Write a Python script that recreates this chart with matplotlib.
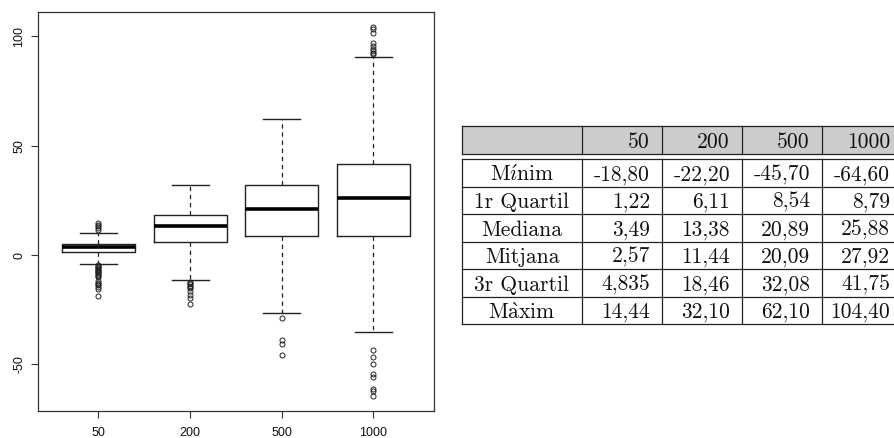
import matplotlib
matplotlib.use("Agg")
import matplotlib.pyplot as plt
from matplotlib.patches import Rectangle

plt.rcParams['axes.unicode_minus'] = False
plt.rcParams['mathtext.fontset'] = 'cm'

# mides de mostra
mides = ['50', '200', '500', '1000']

# resum per mida
minim = [-18.80, -22.20, -45.70, -64.60]
q1 = [1.22, 6.11, 8.54, 8.79]
mediana = [3.49, 13.38, 20.89, 25.88]
mitjana = [2.57, 11.44, 20.09, 27.92]
q3 = [4.835, 18.46, 32.08, 41.75]
maxim = [14.44, 32.10, 62.10, 104.40]

# extrems dels bigotis (llegits del grafic)
bigoti_baix = [-4.1, -11.5, -26.5, -35.3]
bigoti_alt = [10.2, 32.10, 62.10, 90.8]

# valors atipics (llegits del grafic)
atipics = [
    [-4.6, -5.0, -5.4, -5.8, -6.3, -6.7, -7.1, -7.6, -8.0, -8.5, -9.0, -9.6,
     -10.2, -12.0, -12.6, -13.1, -13.8, -14.6, -15.5, -18.8,
     11.3, 12.4, 13.1, 13.9, 14.44],
    [-12.4, -12.8, -13.4, -14.0, -14.6, -15.3, -16.6, -18.1, -19.6, -22.2],
    [-28.6, -38.9, -40.6, -45.7],
    [-43.3, -46.6, -50.0, -54.3, -55.8, -61.2, -62.0, -64.6,
     92.0, 92.6, 93.4, 94.2, 95.5, 97.0, 101.7, 103.6, 104.4],
]

# etiquetes de fila (Mínim i Màxim amb accents de mathtext)
files = [r'$\mathrm{M\acute{\imath}nim}$', '1r Quartil', 'Mediana', 'Mitjana',
         '3r Quartil', r'$\mathrm{M\grave{a}xim}$']
taula = [minim, q1, mediana, mitjana, q3, maxim]


def fmt(v):
    s = f"{v:.2f}" if round(v, 2) == v else f"{v:.3f}"
    return s.replace('.', ',')


W, H = 894, 438
fig = plt.figure(figsize=(W / 100, H / 100), dpi=100)

# ---- boxplot (estil R) ----
ax = fig.add_axes([38 / W, (H - 411) / H, (434 - 38) / W, (411 - 12) / H])
stats = []
for i in range(4):
    stats.append(dict(med=mediana[i], q1=q1[i], q3=q3[i],
                      whislo=bigoti_baix[i], whishi=bigoti_alt[i],
                      fliers=atipics[i], label=mides[i]))
col = '#222222'
ax.bxp(stats, positions=[1, 2, 3, 4], widths=0.8, capwidths=0.4,
       boxprops=dict(color=col, lw=1.0),
       medianprops=dict(color='black', lw=2.6, solid_capstyle='butt'),
       whiskerprops=dict(color=col, lw=0.9, linestyle=(0, (3.5, 3))),
       capprops=dict(color=col, lw=1.0),
       flierprops=dict(marker='o', markersize=3.6, markerfacecolor='none',
                       markeredgecolor=col, markeredgewidth=0.7))

lo = min(minim)
hi = max(maxim)
ext = 0.04 * (hi - lo)
ax.set_ylim(lo - ext, hi + ext)
ax.set_xlim(0.34, 4.66)
ax.set_yticks([-50, 0, 50, 100])
ax.set_yticklabels(['-50', '0', '50', '100'], rotation=90, va='center')
for s in ax.spines.values():
    s.set_color('#333333')
    s.set_linewidth(0.9)
ax.tick_params(axis='both', length=5, width=0.8, color='#333333',
               labelsize=9, labelcolor='#111111')
ax.tick_params(axis='x', pad=6.5)
ax.tick_params(axis='y', pad=4)
for t in ax.get_xticklabels() + ax.get_yticklabels():
    t.set_family(['Liberation Sans', 'DejaVu Sans'])

# ---- taula (estil LaTeX) ----
at = fig.add_axes([0, 0, 1, 1])
at.set_xlim(0, W)
at.set_ylim(H, 0)
at.axis('off')

x0 = 462
amples = [120, 80, 80, 80, 80]
vores = [x0]
for a in amples:
    vores.append(vores[-1] + a)
cap_top, cap_bot = 126, 154
cos_top = 159
alt_fila = 27.5
cos_bot = cos_top + alt_fila * len(files)
lc = '#222222'
lw = 0.9
fam = ['cmr10', 'DejaVu Serif']
fs = 15.5

at.add_patch(Rectangle((vores[0], cap_top), vores[-1] - vores[0], cap_bot - cap_top,
                       facecolor='#cccccc', edgecolor='none', clip_on=False))
for y in [cap_top, cap_bot, cos_top]:
    at.plot([vores[0], vores[-1]], [y, y], color=lc, lw=lw, clip_on=False)
for k in range(1, len(files) + 1):
    y = cos_top + alt_fila * k
    at.plot([vores[0], vores[-1]], [y, y], color=lc, lw=lw, clip_on=False)
for x in vores:
    at.plot([x, x], [cap_top, cap_bot], color=lc, lw=lw, clip_on=False)
    at.plot([x, x], [cos_top, cos_bot], color=lc, lw=lw, clip_on=False)

pad = 12
for j, m in enumerate(mides):
    at.text(vores[j + 2] - pad, (cap_top + cap_bot) / 2, m, ha='right',
            va='center_baseline', family=fam, fontsize=fs, color='#111111')
for i, nom in enumerate(files):
    yc = cos_top + alt_fila * (i + 0.5)
    at.text((vores[0] + vores[1]) / 2, yc, nom, ha='center',
            va='center_baseline', family=fam, fontsize=fs, color='#111111')
    for j in range(4):
        at.text(vores[j + 2] - pad, yc, fmt(taula[i][j]), ha='right',
                va='center_baseline', family=fam, fontsize=fs, color='#111111')

fig.savefig('out.png', dpi=100)
